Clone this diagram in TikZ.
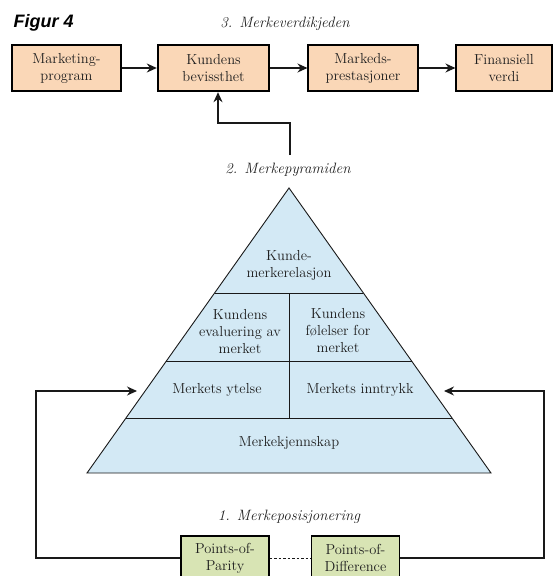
\documentclass[tikz,border=0pt]{standalone}
\usepackage{fontspec}
\newfontfamily\figfont{Liberation Sans}
\usetikzlibrary{arrows.meta}
\definecolor{peach}{RGB}{250,215,183}
\definecolor{pyrblue}{RGB}{211,233,245}
\definecolor{posgreen}{RGB}{216,228,180}
\tikzset{
  valuebox/.style={draw, line width=1.1pt, fill=peach, minimum height=46pt, inner sep=2pt,
    align=center, text=black!88, font=\fontsize{14.5}{17}\selectfont},
  posbox/.style={draw, line width=1.1pt, fill=posgreen, minimum height=44pt, minimum width=88pt,
    inner sep=2pt, align=center, text=black!88, font=\fontsize{14.5}{17}\selectfont},
  level/.style={align=center, text=black!88, font=\fontsize{14.5}{17}\selectfont},
  heading/.style={text=black!88, font=\fontsize{15}{17}\selectfont\itshape},
  link/.style={line width=1.2pt, black!90}
}
\begin{document}
\begin{tikzpicture}[x=1pt, y=-1pt, >={Stealth[length=10pt,width=9pt]}]
  \useasboundingbox (0,0) rectangle (556,576);
  \node[anchor=west, font=\figfont\fontsize{18}{20}\selectfont\bfseries\itshape] (fig) at (10,23) {Figur 4};
  \node[heading] (chainhead) at (285,24) {3. Merkeverdikjeden};
  \node[valuebox, minimum width=109pt] (mkt) at (66.5,68) {Marketing-\\program};
  \node[valuebox, minimum width=111pt, line width=2.4pt] (kund) at (213.5,68) {Kundens\\bevissthet};
  \node[valuebox, minimum width=110pt] (mrk) at (363,68) {Markeds-\\prestasjoner};
  \node[valuebox, minimum width=96pt] (fin) at (504,68) {Finansiell\\verdi};
  \draw[link, ->] (mkt) -- (kund);
  \draw[link, ->] (kund) -- (mrk);
  \draw[link, ->] (mrk) -- (fin);
  \coordinate (pyrtop) at (290,155);
  \coordinate (fbturn) at (290,123);
  \draw[link, ->] (pyrtop) -- (fbturn) -| ([xshift=4.5pt]kund.south);
  \node[heading] (pyrhead) at (288,170) {2. Merkepyramiden};
  \fill[pyrblue] (87,473) -- (289,188) -- (491,473) -- cycle;
  \draw[line width=0.9pt, black!90, line join=miter] (87,473) -- (289,188) -- (491,473) -- cycle;
  \draw[line width=0.9pt, black!90] (214.6,293) -- (363.4,293);
  \draw[line width=0.9pt, black!90] (166.4,361) -- (411.6,361);
  \draw[line width=0.9pt, black!90] (126,418) -- (452,418);
  \draw[line width=0.9pt, black!90] (289,293) -- (289,418);
  \node[level] (rel) at (289,265) {Kunde-\\merkerelasjon};
  \node[level] (eval) at (240,332) {Kundens\\evaluering av\\merket};
  \node[level] (feel) at (338,331) {Kundens\\f\o lelser for\\merket};
  \node[level] (perf) at (217,390) {Merkets ytelse};
  \node[level] (imag) at (360,390) {Merkets inntrykk};
  \node[level] (aware) at (289,443) {Merkekjennskap};
  \node[heading] (poshead) at (289,517) {1. Merkeposisjonering};
  \node[posbox] (pop) at (225,558) {Points-of-\\Parity};
  \node[posbox] (pod) at (355.5,558) {Points-of-\\Difference};
  \draw[line width=1pt, black!90, dash pattern=on 2.5pt off 2pt] (pop) -- (pod);
  \coordinate (lcorner) at (36,391);
  \coordinate (lin) at (137,391);
  \coordinate (rcorner) at (544,391);
  \coordinate (rin) at (444,391);
  \draw[link, ->] (pop.west) -| (lcorner) -- (lin);
  \draw[link, ->] (pod.east) -| (rcorner) -- (rin);
\end{tikzpicture}
\end{document}
